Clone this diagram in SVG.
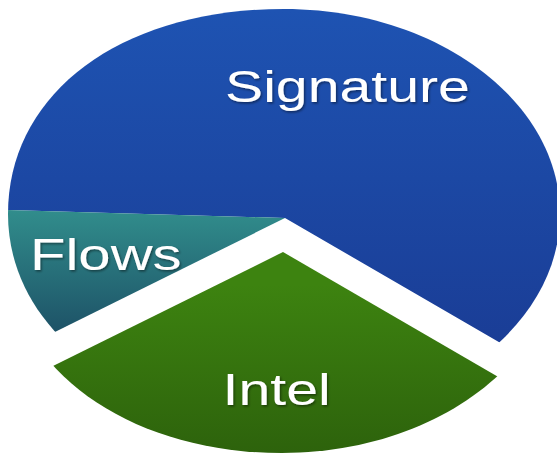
<svg xmlns="http://www.w3.org/2000/svg" width="557" height="457" viewBox="0 0 557 457">
  <defs>
    <clipPath id="pie" clipPathUnits="userSpaceOnUse">
      <path d="M8,214 C8,93 121.2,9 284,9 C436.4,9 560,100.8 560,214 C560,327.2 436.4,419 284,419 C126.7,419 8,330.9 8,214 Z"/>
    </clipPath>
    <linearGradient id="gSig" gradientUnits="userSpaceOnUse" x1="0" y1="10" x2="0" y2="345">
      <stop offset="0" stop-color="#1e53b2"/>
      <stop offset="1" stop-color="#1a3d96"/>
    </linearGradient>
    <linearGradient id="gFlow" gradientUnits="userSpaceOnUse" x1="0" y1="210" x2="0" y2="335">
      <stop offset="0" stop-color="#318d8c"/>
      <stop offset="1" stop-color="#1d5166"/>
    </linearGradient>
    <linearGradient id="gIntel" gradientUnits="userSpaceOnUse" x1="0" y1="250" x2="0" y2="452">
      <stop offset="0" stop-color="#3d8310"/>
      <stop offset="1" stop-color="#2a5c0b"/>
    </linearGradient>
    <filter id="sh" x="-10%" y="-20%" width="120%" height="140%">
      <feDropShadow dx="1" dy="1.5" stdDeviation="1" flood-color="#000" flood-opacity="0.45"/>
    </filter>
  </defs>
  <style>
    .lbl { font-family: "Liberation Sans", Arial, sans-serif; font-size: 44px; fill: #ffffff; filter: url(#sh); }
  </style>

  <g id="signature">
    <path clip-path="url(#pie)" fill="url(#gSig)" d="M285,218 L-20,209.2 L-20,-20 L600,-20 L600,400.7 Z"/>
    <text class="lbl" transform="translate(225,102) scale(1.3,1)">Signature</text>
  </g>

  <g id="flows">
    <path clip-path="url(#pie)" fill="url(#gFlow)" d="M285,218 L-20,209.2 L-20,369.2 Z"/>
    <text class="lbl" transform="translate(30,270) scale(1.32,1)">Flows</text>
  </g>

  <g id="intel">
    <g transform="translate(-2,34)">
      <path clip-path="url(#pie)" fill="url(#gIntel)" d="M285,218 L-20,369.2 L-20,600 L600,600 L600,400.7 Z"/>
    </g>
    <text class="lbl" transform="translate(222.6,405) scale(1.3,1)">Intel</text>
  </g>

  <g id="connectors"/>
</svg>
